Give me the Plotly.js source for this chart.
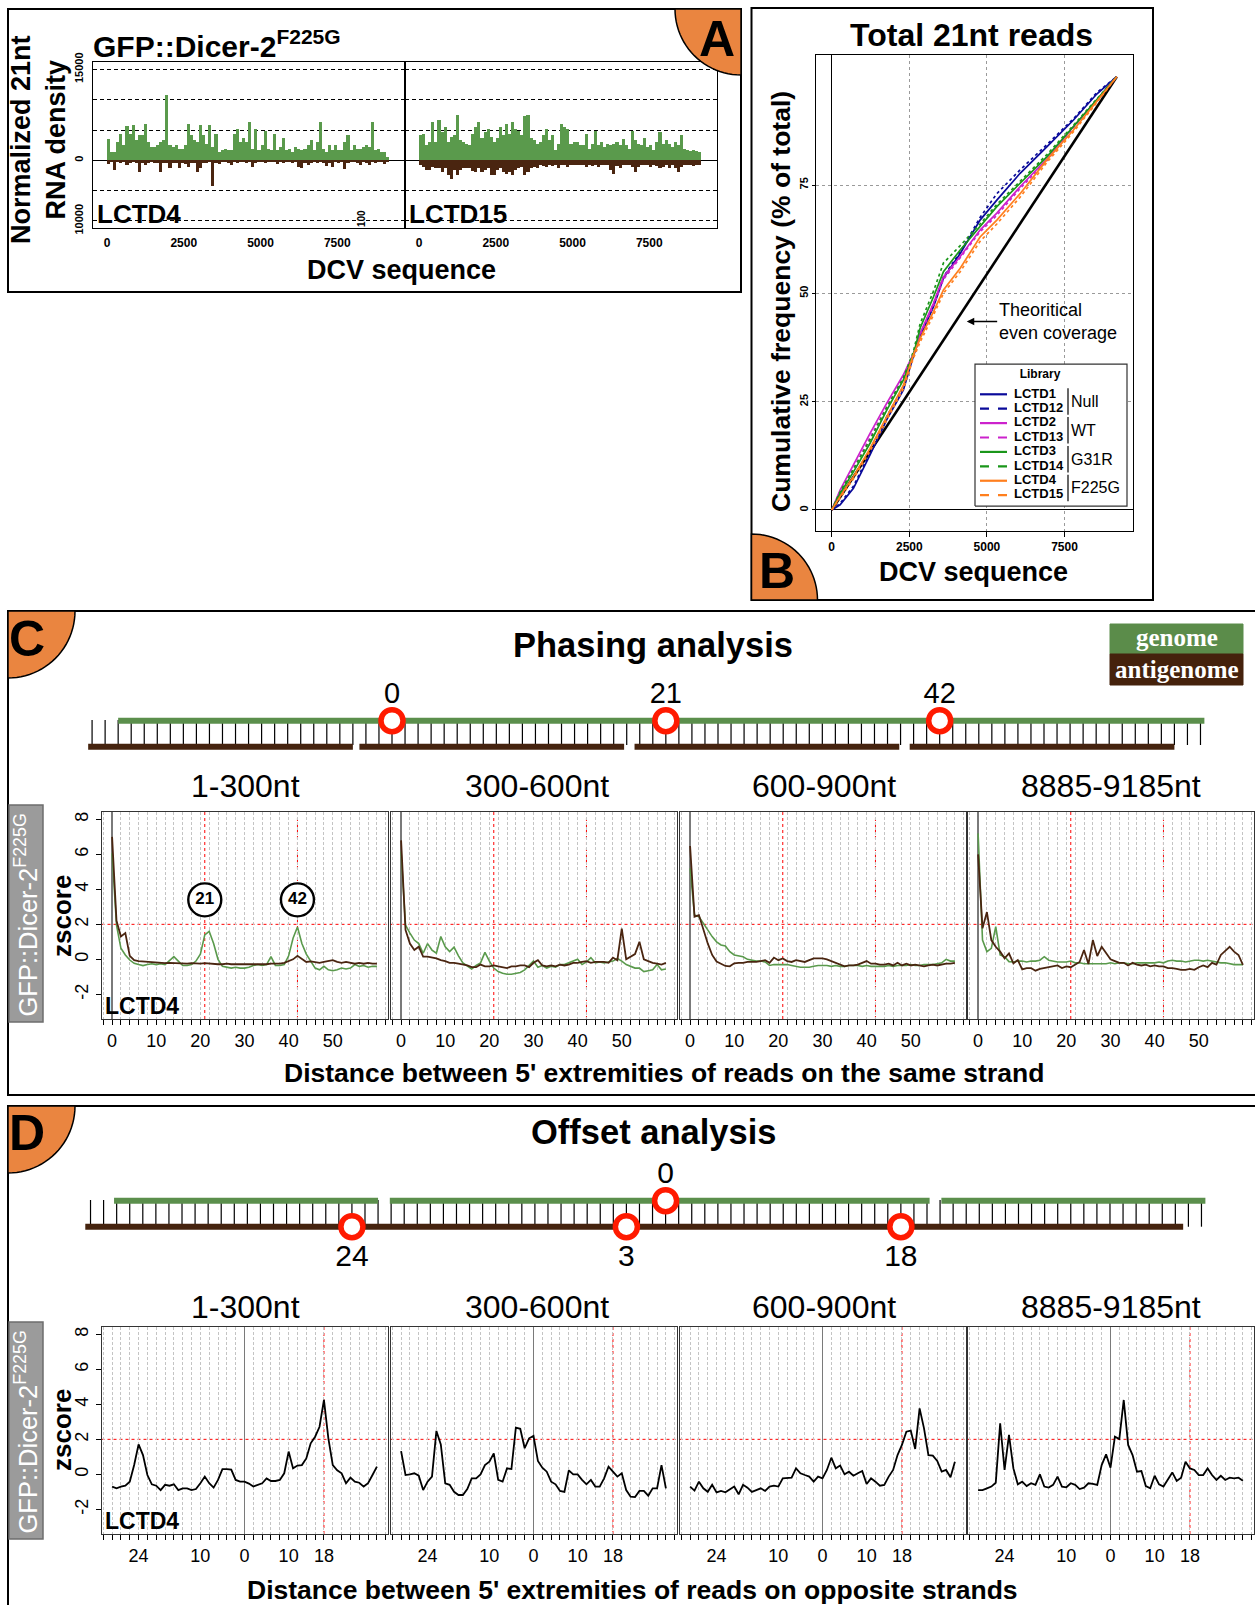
<!DOCTYPE html>
<html><head><meta charset="utf-8">
<script src="https://cdn.plot.ly/plotly-3.0.1.min.js"></script>
<style>html,body{margin:0;padding:0;background:#fff}#chart{width:1255px;height:1605px}</style>
</head><body><div id="chart"></div>
<script>
// ================= DATA =================
// Panel A : normalized 21nt RNA density, 100-nt bins along the DCV genome (bin centres 50..9150)
const lctd4Genome = [3500,1400,1400,3000,4400,2500,5600,4400,5800,3300,
 4100,4100,6000,3000,2200,2200,2500,3000,3300,10700,
 2500,2200,2500,1900,1900,2500,6000,4100,3300,3000,
 5900,4100,2700,5800,2200,4400,1400,1650,1900,1650,
 1650,4400,5200,3000,3600,3000,6300,1900,5200,1650,
 2500,4900,1900,1650,4400,1650,2200,3600,1650,1900,
 1400,2200,1900,1650,1900,2500,3300,1650,3000,6300,
 1900,1400,2500,1650,2500,1650,1650,3000,4100,1650,
 2500,1900,1900,2200,2500,2200,6300,1650,1900,1400,
 1400,550];
const lctd4Anti = [-550,-300,-1650,-300,-400,-300,-800,-400,-300,-500,
 -2000,-400,-800,-400,-300,-500,-400,-1900,-500,-400,
 -1350,-400,-500,-1350,-400,-600,-1100,-400,-500,-1900,
 -1250,-500,-400,-300,-4300,-400,-550,-300,-300,-400,
 -800,-300,-400,-300,-300,-400,-300,-1100,-400,-300,
 -300,-400,-300,-300,-300,-550,-300,-400,-300,-300,
 -400,-300,-1100,-1350,-500,-800,-400,-300,-400,-300,
 -500,-900,-400,-1100,-300,-400,-300,-1500,-400,-300,
 -300,-400,-800,-300,-400,-700,-300,-400,-300,-300,
 -550,-300];
const lctd15Genome = [4100,4400,2500,3000,6400,3000,6600,4700,5500,3000,
 3800,4100,7400,3300,3000,2700,2500,4400,5500,6400,
 3600,4700,5200,3800,3000,3600,5500,4100,6000,4400,
 6400,5200,4900,4100,7300,7500,3600,3300,2700,3000,
 4100,5200,3300,4100,1650,2700,6000,5500,5200,2700,
 3000,3000,2500,2500,4400,1900,2700,4900,2500,3000,
 2200,2700,2500,2700,3000,2500,3500,2500,1900,4900,
 3300,2700,2500,3700,2200,2500,1650,3000,4600,2700,
 3300,2700,2200,3000,2500,4100,1900,1650,1500,1650,
 1500,1400];
const lctd15Anti = [-800,-1100,-1650,-1650,-1100,-1350,-1350,-1900,-1250,-2500,
 -3100,-1650,-2500,-1650,-1350,-1250,-1350,-1800,-1900,-1350,
 -2000,-1650,-1350,-2350,-2500,-1650,-1250,-1900,-2200,-1900,
 -2350,-1650,-1350,-1100,-2500,-1900,-1350,-1100,-1250,-800,
 -900,-1100,-800,-900,-700,-1350,-800,-700,-1100,-700,
 -800,-800,-700,-700,-1100,-700,-900,-700,-1100,-700,
 -800,-700,-1650,-2200,-900,-1250,-800,-800,-700,-1100,
 -1900,-1100,-700,-800,-700,-1100,-700,-900,-1350,-1100,
 -700,-1250,-700,-1350,-1900,-1100,-700,-800,-700,-900,
 -700,-700];

// Panel B : cumulative frequency (% of total 21nt reads) along the DCV sequence
const seqPosB = [0,270,700,1235,1770,2310,2630,2850,3280,3600,4140,4780,5320,6070,6930,7790,8540,9185];
const cumLCTD1  = [0,1.2,5.0,12.7,20.8,27.7,35.5,40.0,46.9,53.5,59.2,66.9,71.5,77.7,83.8,90.0,96.0,100];
const cumLCTD12 = [0,1.5,5.5,13.2,21.5,28.5,35.8,40.5,47.5,53.8,59.5,67.5,73.0,78.5,84.3,90.3,96.3,100];
const cumLCTD2  = [0,4.6,10.4,17.7,24.6,31.2,36.0,40.8,47.7,53.8,58.5,64.6,68.5,74.6,81.0,88.5,94.6,100];
const cumLCTD13 = [0,4.0,9.6,16.8,23.8,30.6,35.6,40.5,47.2,53.2,58.2,64.2,68.0,74.2,80.6,88.2,94.4,100];
const cumLCTD3  = [0,3.8,8.8,15.4,23.0,30.0,35.8,42.0,49.2,55.0,60.0,65.4,70.0,75.4,81.5,88.5,94.6,100];
const cumLCTD14 = [0,4.2,9.4,16.2,23.6,30.5,36.5,43.0,50.5,57.0,61.0,66.0,70.5,75.8,82.0,88.8,94.8,100];
const cumLCTD4  = [0,3.1,7.7,14.2,21.5,28.8,35.8,39.6,45.8,50.8,55.8,63.0,66.9,73.0,80.8,87.7,94.3,100];
const cumLCTD15 = [0,2.8,7.2,13.6,20.8,28.0,35.0,38.8,45.0,50.0,55.0,62.0,66.0,72.2,80.2,87.3,94.0,100];
const evenX = [0, 9185], evenY = [0, 100];
const libNames  = ['LCTD1','LCTD12','LCTD2','LCTD13','LCTD3','LCTD14','LCTD4','LCTD15'];
const libGroups = ['Null','WT','G31R','F225G'];

// Panel C : phasing z-scores, distance 0..60 nt (same strand)
const phaseDist = [...Array(61).keys()];
const c1Genome = [6.06,1.96,0.63,0.25,-0.04,-0.23,-0.3,-0.36,-0.3,-0.25,
 -0.3,-0.25,-0.3,-0.1,0.15,-0.1,-0.35,-0.35,-0.3,-0.1,
 0.3,1.4,1.6,0.9,0.0,-0.4,-0.45,-0.5,-0.45,-0.5,
 -0.5,-0.45,-0.35,-0.3,-0.35,-0.3,0.15,-0.35,-0.35,-0.3,
 0.2,1.2,1.85,0.9,0.3,-0.1,-0.5,-0.6,-0.4,-0.6,
 -0.65,-0.6,-0.5,-0.55,-0.5,-0.3,-0.4,-0.35,-0.45,-0.4,-0.4];
const c1Anti = [7.0,2.2,1.3,1.5,0.2,-0.05,-0.1,-0.12,-0.15,-0.18,
 -0.2,-0.2,-0.22,-0.2,-0.22,-0.2,-0.22,-0.25,-0.22,-0.25,
 -0.25,-0.22,-0.25,-0.25,-0.28,-0.28,-0.25,-0.28,-0.28,-0.28,
 -0.28,-0.28,-0.3,-0.28,-0.28,-0.28,-0.25,-0.25,-0.25,-0.2,
 -0.1,0.0,0.2,0.0,-0.15,-0.12,-0.15,-0.2,-0.15,-0.1,
 -0.05,-0.15,-0.2,-0.15,-0.2,-0.25,-0.2,-0.25,-0.2,-0.25,-0.25];
const c2Genome = [6.15,1.96,1.5,1.1,0.9,0.35,0.9,0.53,0.35,1.3,
 0.72,0.44,0.7,0.2,-0.2,-0.4,-0.55,-0.35,-0.2,0.4,
 -0.1,-0.5,-0.7,-0.8,-0.85,-0.85,-0.8,-0.75,-0.6,-0.35,
 -0.1,-0.45,-0.35,-0.5,-0.4,-0.45,-0.3,-0.3,-0.2,-0.1,
 0.0,-0.3,-0.15,0.1,-0.2,-0.15,-0.2,-0.15,-0.1,0.05,
 -0.1,-0.3,-0.4,-0.5,-0.5,-0.7,-0.65,-0.6,-0.3,-0.6,-0.55];
const c2Anti = [6.8,1.68,0.9,0.53,0.72,0.15,0.15,0.1,0.05,-0.05,
 -0.1,-0.2,-0.2,-0.25,-0.3,-0.35,-0.45,-0.45,-0.3,-0.4,
 -0.4,-0.35,-0.4,-0.45,-0.5,-0.4,-0.4,-0.35,-0.35,-0.45,
 -0.2,-0.05,-0.35,-0.4,-0.35,-0.4,-0.3,-0.35,-0.3,-0.2,
 -0.2,-0.15,-0.1,-0.2,-0.15,-0.15,-0.15,-0.2,0.1,-0.05,
 1.75,0.0,0.15,0.3,1.0,0.0,-0.1,-0.2,-0.25,-0.3,-0.2];
const c3Genome = [5.2,2.53,2.44,2.05,1.68,1.3,1.0,0.82,0.76,0.44,
 0.25,0.2,0.15,0.0,-0.05,-0.1,-0.1,-0.15,-0.35,-0.3,
 -0.3,-0.3,-0.3,-0.35,-0.4,-0.45,-0.45,-0.45,-0.4,-0.35,
 -0.35,-0.35,-0.4,-0.35,-0.4,-0.4,-0.35,-0.35,-0.35,-0.4,
 -0.35,-0.4,-0.4,-0.4,-0.4,-0.35,-0.4,-0.35,-0.35,-0.35,
 -0.3,-0.35,-0.35,-0.3,-0.3,-0.3,-0.25,-0.2,0.0,-0.1,-0.1];
const c3Anti = [6.48,2.44,2.53,1.68,0.91,0.25,-0.13,-0.25,-0.38,-0.4,
 -0.23,-0.2,-0.2,-0.15,-0.15,-0.15,-0.1,-0.05,-0.2,0.1,
 -0.05,0.05,-0.1,-0.15,-0.05,-0.1,-0.15,-0.05,0.05,0.05,
 0.05,0.0,-0.1,-0.2,-0.3,-0.4,-0.35,-0.35,-0.3,-0.2,
 -0.1,-0.25,-0.25,-0.3,-0.3,-0.25,-0.35,-0.2,-0.35,-0.25,
 -0.35,-0.3,-0.35,-0.4,-0.35,-0.3,-0.35,-0.3,-0.25,-0.25,-0.2];
const c4Genome = [7.2,1.1,0.44,0.63,1.87,0.25,0.15,-0.13,-0.15,-0.1,
 -0.1,-0.15,-0.1,-0.1,-0.05,0.15,-0.05,-0.1,-0.15,-0.15,
 -0.15,-0.1,-0.2,-0.2,-0.25,-0.25,-0.25,-0.25,-0.25,-0.25,
 -0.2,-0.25,-0.2,-0.2,-0.25,-0.25,-0.2,-0.2,-0.2,-0.2,
 -0.2,-0.15,-0.2,-0.1,-0.05,-0.1,-0.1,-0.15,-0.1,-0.05,
 -0.05,-0.1,-0.05,-0.1,-0.15,-0.2,-0.2,-0.25,-0.3,-0.3,-0.3];
const c4Anti = [6.0,1.77,2.7,1.1,0.72,0.44,0.06,0.34,-0.23,-0.04,
 -0.57,-0.5,-0.5,-0.65,-0.55,-0.5,-0.42,-0.4,-0.35,-0.5,
 -0.4,-0.45,-0.3,-0.15,0.53,-0.27,1.1,0.19,0.72,0.34,
 0.0,-0.1,-0.2,-0.2,-0.35,-0.2,-0.3,-0.35,-0.3,-0.4,
 -0.35,-0.4,-0.4,-0.5,-0.5,-0.55,-0.6,-0.6,-0.55,-0.6,
 -0.45,-0.35,-0.45,-0.2,-0.3,0.25,0.5,0.72,0.44,0.25,-0.32];

// Panel D : offset z-scores, offset -30..30 nt (opposite strands)
const offsetDist = [...Array(61).keys()].map(i => i - 30);
const d1Score = [-0.7,-0.8,-0.7,-0.65,-0.42,0.53,1.71,1.1,-0.04,-0.57,
 -0.65,-0.9,-0.6,-0.65,-0.57,-0.9,-0.8,-0.8,-0.9,-0.84,
 -0.51,-0.13,-0.51,-0.76,-0.32,0.3,0.3,0.27,-0.32,-0.42,
 -0.42,-0.53,-0.7,-0.6,-0.51,-0.23,-0.38,-0.38,-0.32,0.06,
 1.3,0.34,0.5,0.53,0.91,1.77,2.15,2.72,4.25,2.06,
 0.53,0.23,0.06,-0.51,-0.19,-0.42,-0.48,-0.7,-0.51,-0.04,0.44];
const d2Score = [1.33,-0.04,0.0,0.06,-0.08,-0.9,-0.42,-0.13,2.48,1.71,
 -0.51,-0.6,-1.0,-1.18,-1.18,-0.84,-0.23,-0.23,0.0,0.53,
 0.72,1.2,-0.32,-0.42,0.34,0.3,2.67,2.6,1.49,2.06,
 2.2,0.76,0.38,0.15,-0.42,-0.57,-0.95,-1.0,0.23,0.0,
 0.0,-0.32,-0.57,-0.32,-0.7,-0.7,-0.23,0.44,0.15,-0.13,
 0.06,-0.9,-1.28,-1.3,-0.95,-0.95,-1.22,-0.8,-0.8,0.53,-0.8];
const d3Score = [-0.7,-0.93,-0.42,-0.8,-1.0,-0.6,-1.03,-0.95,-1.03,-0.84,
 -0.7,-1.14,-0.6,-0.76,-1.0,-0.9,-0.8,-0.95,-0.7,-0.65,
 -0.7,-0.23,-0.23,-0.19,0.34,0.06,-0.04,-0.13,-0.42,-0.13,
 -0.23,0.25,0.95,0.34,0.5,0.0,0.15,-0.08,0.06,0.19,
 -0.55,-0.23,-0.42,-0.65,-0.6,-0.13,0.25,1.1,1.68,2.44,
 2.5,1.45,3.77,2.63,1.1,1.07,0.76,0.15,0.25,-0.17,0.72];
const d4Score = [-0.9,-0.9,-0.8,-0.7,-0.48,2.91,0.25,2.25,0.34,-0.57,
 -0.42,-0.67,-0.51,-0.6,0.0,-0.7,-0.76,-0.6,-0.13,-0.7,
 -0.74,-0.51,-0.6,-0.84,-0.76,-0.51,-0.55,-0.6,0.53,1.14,
 0.38,2.15,2.02,4.25,1.68,1.1,0.15,0.19,-0.67,-0.8,
 -0.08,-0.57,-0.7,-0.32,0.11,-0.38,-0.19,0.72,0.34,0.25,
 -0.04,-0.04,0.34,-0.04,-0.32,-0.08,-0.32,-0.19,-0.23,-0.19,-0.36];
const regionLabels = ['1-300nt','300-600nt','600-900nt','8885-9185nt'];

// Schematics (positions in nt)
const phaseGenomeStarts = [-21, 0, 21, 42];
const phaseAntiStarts = [-23.3, -2.5, 18.6, 39.7];
const phaseMarks = [0, 21, 42];
const offsetGenomeStarts = [-42.2, -21.1, 0, 21.1];
const offsetAntiSpan = [-44.4, 39.6];
const offsetTopMarks = [0];
const offsetBottomMarks = [-24, -3, 18];
const offsetBottomLabels = ['24', '3', '18'];

// ================= STYLE / LAYOUT HELPERS =================
const W = 1255, H = 1605;
const FONT = 'Liberation Sans, Arial, Helvetica, sans-serif';
const SERIF = 'Liberation Serif, DejaVu Serif, serif';
const GREEN = '#5a9a4c', BROWN = '#4a2510', ORANGE = '#EA8540';
const SGREEN = '#5b8f4c', SBROWN = '#45230e';
const dom = (a, b) => [a / W, b / W];
const vdom = (top, bottom) => [1 - bottom / H, 1 - top / H];
const PX = x => x / W, PY = y => 1 - y / H;

const traces = [];
const layout = {
  width: W, height: H, margin: {l: 0, r: 0, t: 0, b: 0, pad: 0},
  paper_bgcolor: '#ffffff', plot_bgcolor: 'rgba(0,0,0,0)',
  showlegend: false, barmode: 'relative', bargap: 0,
  font: {family: FONT, color: '#000'},
  shapes: [], annotations: []
};
function ann(text, x, y, o) {
  layout.annotations.push(Object.assign({text, x: PX(x), y: PY(y), xref: 'paper', yref: 'paper',
    showarrow: false, xanchor: 'center', yanchor: 'middle', font: {family: FONT, size: 14, color: '#000'}}, o || {}));
}
function rect(x0, y0, x1, y1, o) {
  layout.shapes.push(Object.assign({type: 'rect', xref: 'paper', yref: 'paper',
    x0: PX(x0), x1: PX(x1), y0: PY(y0), y1: PY(y1), line: {color: '#000', width: 2}}, o || {}));
}
function quarter(cx, cy, r, a0, a1) {
  let p = 'M ' + PX(cx) + ',' + PY(cy);
  for (let k = 0; k <= 24; k++) {
    const a = (a0 + (a1 - a0) * k / 24) * Math.PI / 180;
    p += ' L ' + PX(cx + r * Math.cos(a)) + ',' + PY(cy + r * Math.sin(a));
  }
  layout.shapes.push({type: 'path', xref: 'paper', yref: 'paper', path: p + ' Z',
    fillcolor: ORANGE, line: {color: '#000', width: 1.5}, layer: 'above'});
}

// ================= PANEL A =================
const binCentreA = lctd4Genome.map((_, i) => 50 + 100 * i);
[['x', 'y', lctd4Genome, lctd4Anti], ['x2', 'y2', lctd15Genome, lctd15Anti]].forEach(([xa, ya, g, a]) => {
  traces.push({type: 'bar', x: binCentreA, y: g, width: 100, xaxis: xa, yaxis: ya, marker: {color: GREEN, line: {width: 0}}});
  traces.push({type: 'bar', x: binCentreA, y: a, width: 100, xaxis: xa, yaxis: ya, marker: {color: BROWN, line: {width: 0}}});
});
const axA_x = (d, anchor) => ({domain: d, range: [-458, 9708], anchor, tickvals: [0, 2500, 5000, 7500],
  ticktext: ['<b>0</b>', '<b>2500</b>', '<b>5000</b>', '<b>7500</b>'], tickfont: {size: 12},
  ticks: 'outside', ticklen: 4, tickcolor: 'rgba(0,0,0,0)', showgrid: false, zeroline: false,
  showline: true, linecolor: '#000', linewidth: 1, mirror: true, fixedrange: true});
const axA_y = (anchor, labels) => ({domain: vdom(62, 228), range: [-11170, 16220], anchor,
  tickvals: [-10000, 0, 15000], ticktext: ['<b>10000</b>', '<b>0</b>', '<b>15000</b>'], showticklabels: labels,
  tickangle: -90, tickfont: {size: 11}, ticks: labels ? 'outside' : '', ticklen: 5, tickcolor: 'rgba(0,0,0,0)',
  showgrid: true, gridcolor: '#000', griddash: '4px,3px', gridwidth: 1,
  minor: {tick0: 0, dtick: 5000, showgrid: true, gridcolor: '#000', griddash: '4px,3px', gridwidth: 1, ticks: ''},
  zeroline: true, zerolinecolor: '#000', zerolinewidth: 1.3,
  showline: true, linecolor: '#000', linewidth: 1, mirror: true, fixedrange: true});
layout.xaxis = axA_x(dom(93, 405), 'y');
layout.yaxis = axA_y('x', true);
layout.xaxis2 = axA_x(dom(405, 717), 'y2');
layout.yaxis2 = axA_y('x2', false);

// ================= PANEL B =================
const libColors = ['#0a0a9a', '#0a0a9a', '#cc22cc', '#cc22cc', '#1a961a', '#1a961a', '#ff7f1e', '#ff7f1e'];
const cumSeries = [cumLCTD1, cumLCTD12, cumLCTD2, cumLCTD13, cumLCTD3, cumLCTD14, cumLCTD4, cumLCTD15];
traces.push({type: 'scatter', mode: 'lines', x: evenX, y: evenY, xaxis: 'x3', yaxis: 'y3', line: {color: '#000', width: 2.6}});
cumSeries.forEach((s, i) => {
  traces.push({type: 'scatter', mode: 'lines', x: seqPosB, y: s, xaxis: 'x3', yaxis: 'y3', name: libNames[i],
    line: {color: libColors[i], width: 1.7, dash: i % 2 ? 'dot' : 'solid'}});
});
layout.xaxis3 = {domain: dom(816, 1133), range: [-506, 9707], anchor: 'y3', tickvals: [0, 2500, 5000, 7500],
  ticktext: ['<b>0</b>', '<b>2500</b>', '<b>5000</b>', '<b>7500</b>'], tickfont: {size: 12},
  ticks: 'outside', ticklen: 5, tickcolor: '#000', showgrid: true, gridcolor: '#9a9a9a', griddash: '3px,3px',
  zeroline: true, zerolinecolor: '#000', zerolinewidth: 1, showline: true, linecolor: '#000', mirror: true, fixedrange: true};
layout.yaxis3 = {domain: vdom(55, 531), range: [-4.85, 105], anchor: 'x3', tickvals: [0, 25, 50, 75],
  ticktext: ['<b>0</b>', '<b>25</b>', '<b>50</b>', '<b>75</b>'], tickfont: {size: 11}, tickangle: -90,
  ticks: 'outside', ticklen: 3, tickcolor: '#000', showgrid: true, gridcolor: '#9a9a9a', griddash: '3px,3px',
  zeroline: true, zerolinecolor: '#000', zerolinewidth: 1, showline: true, linecolor: '#000', mirror: true, fixedrange: true};
// "Theoritical even coverage" note with its arrow pointing at the diagonal
layout.annotations.push({xref: 'x3', yref: 'y3', axref: 'x3', ayref: 'y3', x: 4351, y: 43.5, ax: 7280, ay: 43.5,
  text: 'Theoritical<br>even coverage', align: 'left', showarrow: true, arrowhead: 2, arrowsize: 1, arrowwidth: 1.5,
  arrowcolor: '#000', standoff: 0, borderpad: 1, font: {family: FONT, size: 18, color: '#000'}});

// Legend of panel B, drawn on its own small axis (x14/y14)
layout.xaxis14 = {domain: dom(970, 1132), range: [0, 162], anchor: 'y14', visible: false, fixedrange: true};
layout.yaxis14 = {domain: vdom(359, 511), range: [-1.10, 9.45], anchor: 'x14', visible: false, fixedrange: true};
traces.push({type: 'scatter', mode: 'lines', x: [5, 157, 157, 5, 5], y: [-0.76, -0.76, 9.10, 9.10, -0.76],
  xaxis: 'x14', yaxis: 'y14', fill: 'toself', fillcolor: '#ffffff', line: {color: '#333', width: 1.2}});
const legRow = libNames.map((_, i) => 7 - i);
libNames.forEach((n, i) => {
  traces.push({type: 'scatter', mode: 'lines', x: [10, 37], y: [legRow[i], legRow[i]], xaxis: 'x14', yaxis: 'y14',
    line: {color: libColors[i], width: 2.2, dash: i % 2 ? 'dash' : 'solid'}});
});
traces.push({type: 'scatter', mode: 'text', x: libNames.map(() => 44), y: legRow, text: libNames.map(n => '<b>' + n + '</b>'),
  textposition: 'middle right', xaxis: 'x14', yaxis: 'y14', textfont: {family: FONT, size: 13, color: '#000'}});
libGroups.forEach((g, k) => {
  traces.push({type: 'scatter', mode: 'lines', x: [98, 98], y: [legRow[2 * k] + 0.42, legRow[2 * k + 1] - 0.42],
    xaxis: 'x14', yaxis: 'y14', line: {color: '#000', width: 1.2}});
});
traces.push({type: 'scatter', mode: 'text', x: libGroups.map(() => 101), y: libGroups.map((_, k) => legRow[2 * k] - 0.6),
  text: libGroups, textposition: 'middle right', xaxis: 'x14', yaxis: 'y14', textfont: {family: FONT, size: 16, color: '#000'}});
traces.push({type: 'scatter', mode: 'text', x: [70], y: [8.35], text: ['<b>Library</b>'], textposition: 'middle center',
  xaxis: 'x14', yaxis: 'y14', textfont: {family: FONT, size: 12, color: '#000'}});

// ================= PANELS C & D (z-score panels) =================
const panelX = [[101.5, 387.5], [390.5, 676.5], [679.5, 965.5], [967.5, 1253.5]];
const cTickVals = [0, 10, 20, 30, 40, 50];
const dTickVals = [-24, -10, 0, 10, 18];
const dTickText = ['24', '10', '0', '10', '18'];

function zAxes(idx, px, vTop, vBot, xr, tv, tt, first) {
  const gridStyle = {showgrid: true, gridcolor: '#c4c4c4', griddash: '3px,2px', gridwidth: 1};
  layout['xaxis' + idx] = Object.assign({domain: dom(px[0], px[1]), range: xr, anchor: 'y' + idx, tickvals: tv, ticktext: tt,
    tickfont: {size: 18}, ticks: 'outside', ticklen: 5, tickcolor: '#000', tickwidth: 1,
    minor: Object.assign({tick0: 0, dtick: 2, ticks: 'outside', ticklen: 5, tickcolor: '#000', tickwidth: 1}, gridStyle),
    zeroline: true, zerolinecolor: '#7a7a7a', zerolinewidth: 1.2,
    showline: true, linecolor: '#333', linewidth: 1, mirror: true, fixedrange: true}, gridStyle);
  layout['yaxis' + idx] = {domain: vdom(vTop, vBot), range: [-3.41, 8.42], anchor: 'x' + idx,
    tickvals: [-2, 0, 2, 4, 6, 8], ticktext: ['-2', '0', '2', '4', '6', '8'], showticklabels: first,
    tickangle: -90, tickfont: {size: 18}, ticks: first ? 'outside' : '', ticklen: 5, tickcolor: '#000',
    showgrid: false, zeroline: false, showline: true, linecolor: '#333', linewidth: 1, mirror: true, fixedrange: true};
}
function redLines(idx, xs) {
  xs.forEach(v => layout.shapes.push({type: 'line', xref: 'x' + idx, yref: 'y' + idx + ' domain', x0: v, x1: v, y0: 0, y1: 1,
    line: {color: '#ff0000', width: 1, dash: '3px,3px'}, layer: 'below'}));
  layout.shapes.push({type: 'line', xref: 'x' + idx + ' domain', yref: 'y' + idx, x0: 0, x1: 1, y0: 2, y1: 2,
    line: {color: '#ff0000', width: 1, dash: '3px,3px'}, layer: 'below'});
}
const cG = [c1Genome, c2Genome, c3Genome, c4Genome], cA = [c1Anti, c2Anti, c3Anti, c4Anti];
for (let k = 0; k < 4; k++) {
  const idx = 4 + k;
  zAxes(idx, panelX[k], 812, 1019, [-2.4, 62.4], cTickVals, cTickVals.map(String), k === 0);
  redLines(idx, [21, 42]);
  traces.push({type: 'scatter', mode: 'lines', x: phaseDist, y: cG[k], xaxis: 'x' + idx, yaxis: 'y' + idx, line: {color: GREEN, width: 1.6}});
  traces.push({type: 'scatter', mode: 'lines', x: phaseDist, y: cA[k], xaxis: 'x' + idx, yaxis: 'y' + idx, line: {color: BROWN, width: 1.8}});
}
traces.push({type: 'scatter', mode: 'markers+text', x: [21, 42], y: [3.4, 3.4], text: ['<b>21</b>', '<b>42</b>'],
  textposition: 'middle center', xaxis: 'x4', yaxis: 'y4', textfont: {family: FONT, size: 17, color: '#000'},
  marker: {size: 33, color: '#fff', line: {color: '#000', width: 2.4}}});
const dS = [d1Score, d2Score, d3Score, d4Score];
for (let k = 0; k < 4; k++) {
  const idx = 8 + k;
  zAxes(idx, panelX[k], 1327, 1534, [-32.4, 32.4], dTickVals, dTickText, k === 0);
  redLines(idx, [18]);
  traces.push({type: 'scatter', mode: 'lines', x: offsetDist, y: dS[k], xaxis: 'x' + idx, yaxis: 'y' + idx, line: {color: '#000', width: 1.8}});
}

// ================= SCHEMATICS =================
function schematic(xa, ya, tickFrom, tickTo, yTop, yBot) {
  const tx = [], ty = [];
  for (let n = tickFrom; n <= tickTo; n++) { tx.push(n, n, null); ty.push(yTop, yBot, null); }
  traces.push({type: 'scatter', mode: 'lines', x: tx, y: ty, xaxis: xa, yaxis: ya, line: {color: '#000', width: 1.2}});
}
function segs(starts, len, yv, color, xa, ya) {
  const sx = [], sy = [];
  starts.forEach(s => { sx.push(s, s + len, null); sy.push(yv, yv, null); });
  traces.push({type: 'scatter', mode: 'lines', x: sx, y: sy, xaxis: xa, yaxis: ya, line: {color, width: 6}});
}
const redMarker = {size: 22, color: '#fff', line: {color: '#ff1a00', width: 5.5}};
// Phasing schematic (x12/y12): y value = 760 - pixel row
layout.xaxis12 = {domain: [0, 1], range: [-392 / 13.04, (W - 392) / 13.04], anchor: 'y12', visible: false, fixedrange: true};
layout.yaxis12 = {domain: vdom(680, 760), range: [0, 80], anchor: 'x12', visible: false, fixedrange: true};
schematic('x12', 'y12', -23, 62, 40, 15);
segs(phaseGenomeStarts, 20.3, 39.3, SGREEN, 'x12', 'y12');
segs(phaseAntiStarts, 20.3, 13.3, SBROWN, 'x12', 'y12');
traces.push({type: 'scatter', mode: 'markers', x: phaseMarks, y: phaseMarks.map(() => 39.3), xaxis: 'x12', yaxis: 'y12', marker: redMarker});
traces.push({type: 'scatter', mode: 'text', x: phaseMarks, y: phaseMarks.map(() => 64), text: phaseMarks.map(String),
  xaxis: 'x12', yaxis: 'y12', textfont: {family: FONT, size: 29, color: '#000'}});
// Offset schematic (x13/y13): y value = 1270 - pixel row
layout.xaxis13 = {domain: [0, 1], range: [-665.6 / 13.07, (W - 665.6) / 13.07], anchor: 'y13', visible: false, fixedrange: true};
layout.yaxis13 = {domain: vdom(1160, 1270), range: [0, 110], anchor: 'x13', visible: false, fixedrange: true};
schematic('x13', 'y13', -44, 41, 70, 43.3);
segs(offsetGenomeStarts, 20.2, 69.3, SGREEN, 'x13', 'y13');
traces.push({type: 'scatter', mode: 'lines', x: offsetAntiSpan, y: [43.3, 43.3], xaxis: 'x13', yaxis: 'y13', line: {color: SBROWN, width: 6}});
traces.push({type: 'scatter', mode: 'markers', x: offsetTopMarks, y: [69.3], xaxis: 'x13', yaxis: 'y13', marker: redMarker});
traces.push({type: 'scatter', mode: 'markers', x: offsetBottomMarks, y: offsetBottomMarks.map(() => 43.3), xaxis: 'x13', yaxis: 'y13', marker: redMarker});
traces.push({type: 'scatter', mode: 'text', x: offsetTopMarks, y: [95], text: ['0'], xaxis: 'x13', yaxis: 'y13', textfont: {family: FONT, size: 30, color: '#000'}});
traces.push({type: 'scatter', mode: 'text', x: offsetBottomMarks, y: offsetBottomMarks.map(() => 12), text: offsetBottomLabels,
  xaxis: 'x13', yaxis: 'y13', textfont: {family: FONT, size: 30, color: '#000'}});

// ================= FRAMES, BADGES, TEXT =================
rect(8, 9, 741, 292);
rect(751.5, 8, 1153, 600);
rect(8, 611, 1262, 1095);
rect(8, 1106, 1262, 1620);
quarter(741, 9, 66, 90, 180);
quarter(751.5, 600, 66, 270, 360);
quarter(8, 611, 67, 0, 90);
quarter(8, 1106, 67, 0, 90);
ann('<b>A</b>', 717, 39, {font: {family: FONT, size: 50}});
ann('<b>B</b>', 777, 571, {font: {family: FONT, size: 50}});
ann('<b>C</b>', 27, 639, {font: {family: FONT, size: 50}});
ann('<b>D</b>', 27, 1133, {font: {family: FONT, size: 50}});

// Panel A text
ann('<b>GFP::Dicer-2<sup>F225G</sup></b>', 91, 44, {xanchor: 'left', font: {family: FONT, size: 30}});
ann('<b>Normalized 21nt<br>RNA density</b>', 38, 140, {textangle: -90, font: {family: FONT, size: 27}});
ann('<b>DCV sequence</b>', 401, 270, {font: {family: FONT, size: 27}});
layout.annotations.push({text: '<b>LCTD4</b>', xref: 'x domain', yref: 'y domain', x: 0.005, y: 0.0, xanchor: 'left', yanchor: 'bottom',
  showarrow: false, font: {family: FONT, size: 26, color: '#000'}, yshift: -3});
layout.annotations.push({text: '<b>LCTD15</b>', xref: 'x2 domain', yref: 'y2 domain', x: 0.005, y: 0.0, xanchor: 'left', yanchor: 'bottom',
  showarrow: false, font: {family: FONT, size: 26, color: '#000'}, yshift: -3});
ann('<b>100</b>', 362, 219, {textangle: -90, font: {family: FONT, size: 10}});

// Panel B text
ann('<b>Total 21nt reads</b>', 971, 35, {font: {family: FONT, size: 32}});
ann('<b>Cumulative frequency (% of total)</b>', 781, 302, {textangle: -90, font: {family: FONT, size: 26.5}});
ann('<b>DCV sequence</b>', 974, 572, {font: {family: FONT, size: 27}});

// Panel C text
ann('<b>Phasing analysis</b>', 653, 645, {font: {family: FONT, size: 34.5}});
rect(1110, 624, 1243, 654, {fillcolor: '#5b8c4a', line: {color: '#5b8c4a', width: 1}});
rect(1110, 654, 1243, 685, {fillcolor: '#45220c', line: {color: '#45220c', width: 1}});
ann('<b>genome</b>', 1176.5, 638, {font: {family: SERIF, size: 25, color: '#fff'}});
ann('<b>antigenome</b>', 1176.5, 669, {font: {family: SERIF, size: 25, color: '#fff'}});
const titleX = [245, 537, 824, 1111];
regionLabels.forEach((t, k) => ann(t, titleX[k], 786, {font: {family: FONT, size: 32}}));
regionLabels.forEach((t, k) => ann(t, titleX[k], 1307, {font: {family: FONT, size: 32}}));
[[805, 1022], [1322, 1539]].forEach(([a, b]) => {
  rect(9, a, 43, b, {fillcolor: '#9b9b9b', line: {color: '#6e6e6e', width: 1.5}});
  ann('GFP::Dicer-2<sup>F225G</sup>', 26, (a + b) / 2 + 2, {textangle: -90, font: {family: FONT, size: 25.5, color: '#fff'}});
});
ann('<b>zscore</b>', 62, 916, {textangle: -90, font: {family: FONT, size: 26}});
ann('<b>zscore</b>', 62, 1430, {textangle: -90, font: {family: FONT, size: 26}});
['x4', 'x8'].forEach((xa, k) => layout.annotations.push({text: '<b>LCTD4</b>', xref: xa + ' domain', yref: (k ? 'y8' : 'y4') + ' domain',
  x: 0.005, y: 0.0, xanchor: 'left', yanchor: 'bottom', showarrow: false, yshift: -2, font: {family: FONT, size: 23, color: '#000'}}));
ann("<b>Distance between 5' extremities of reads on the same strand</b>", 664, 1073, {font: {family: FONT, size: 26.5}});
ann('<b>Offset analysis</b>', 653, 1132, {font: {family: FONT, size: 34.5}});
ann("<b>Distance between 5' extremities of reads on opposite strands</b>", 633, 1590, {font: {family: FONT, size: 26.5}});

Plotly.newPlot('chart', traces, layout, {staticPlot: true, displayModeBar: false});
</script>
</body></html>
